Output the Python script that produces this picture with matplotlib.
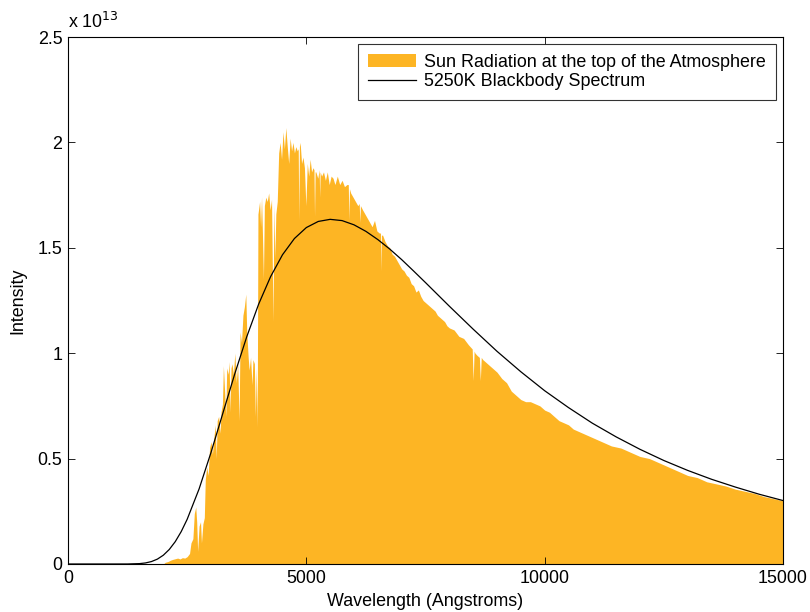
import matplotlib
matplotlib.use("Agg")
import matplotlib.pyplot as plt

plt.rcParams['font.family'] = ['Liberation Sans', 'DejaVu Sans']

# Wavelength (Angstrom) and intensity (units of 1e13) of the solar spectrum
sun_wl = [2000, 2040, 2100, 2150, 2200, 2250, 2300, 2350, 2400, 2450, 2500, 2550,
          2580, 2620, 2650, 2680, 2700, 2720, 2750, 2780, 2800, 2830, 2860, 2880,
          2910, 2940, 2970, 3000, 3030, 3060, 3090, 3110, 3130, 3160, 3190, 3210,
          3240, 3260, 3290, 3310, 3330, 3360, 3380, 3400, 3420, 3440, 3470, 3500,
          3530, 3560, 3590, 3610, 3640, 3670, 3700, 3730, 3750, 3780, 3800, 3830,
          3860, 3880, 3910, 3930, 3950, 3970, 3985, 4020, 4040, 4060, 4080, 4100,
          4120, 4150, 4180, 4210, 4240, 4270, 4300, 4320, 4340, 4360, 4390, 4420,
          4450, 4480, 4510, 4540, 4570, 4600, 4630, 4660, 4690, 4720, 4750, 4780,
          4810, 4830, 4842, 4855, 4870, 4900, 4930, 4960, 4990, 5020, 5050, 5080,
          5110, 5140, 5160, 5172, 5185, 5200, 5240, 5270, 5280, 5290, 5320, 5360,
          5400, 5440, 5480, 5520, 5560, 5600, 5650, 5700, 5750, 5800, 5850, 5880,
          5893, 5905, 5930, 5980, 6030, 6080, 6110, 6122, 6135, 6180, 6230, 6280,
          6330, 6380, 6430, 6480, 6530, 6555, 6565, 6575, 6600, 6650, 6700, 6750,
          6800, 6850, 6900, 6950, 7000, 7050, 7100, 7150, 7200, 7250, 7300, 7350,
          7400, 7450, 7500, 7550, 7600, 7650, 7700, 7750, 7800, 7850, 7900, 7950,
          8000, 8100, 8200, 8300, 8400, 8480, 8500, 8520, 8540, 8580, 8630, 8650,
          8670, 8700, 8800, 8900, 9000, 9100, 9200, 9300, 9400, 9500, 9600, 9700,
          9800, 9900, 10000, 10100, 10200, 10300, 10400, 10500, 10600, 10800,
          11000, 11200, 11400, 11600, 11800, 12000, 12200, 12400, 12600, 12800,
          13000, 13200, 13400, 13600, 13800, 14000, 14200, 14400, 14600, 14800,
          15000]
sun_flux = [0.0, 0.008, 0.012, 0.018, 0.022, 0.025, 0.028, 0.024, 0.030, 0.028, 0.035, 0.05,
            0.10, 0.12, 0.24, 0.27, 0.20, 0.06, 0.18, 0.20, 0.10, 0.19, 0.22, 0.40,
            0.46, 0.42, 0.55, 0.58, 0.52, 0.60, 0.66, 0.50, 0.68, 0.70, 0.62, 0.72,
            0.76, 0.94, 0.80, 0.70, 0.93, 0.90, 0.96, 0.72, 0.93, 0.95, 0.90, 1.00,
            0.86, 0.95, 0.68, 1.10, 1.05, 1.18, 1.22, 1.28, 1.10, 0.98, 0.92, 0.98,
            0.85, 0.97, 0.95, 0.70, 0.93, 0.65, 1.66, 1.72, 1.60, 1.74, 1.56, 1.35,
            1.70, 1.74, 1.72, 1.76, 1.68, 1.73, 1.15, 1.70, 1.45, 1.66, 1.72, 1.95,
            2.00, 1.92, 2.05, 1.97, 2.07, 1.98, 1.90, 2.02, 1.96, 2.00, 1.95, 1.98,
            1.96, 1.97, 1.63, 1.98, 2.00, 1.90, 1.93, 1.88, 1.70, 1.90, 1.84, 1.92,
            1.86, 1.88, 1.87, 1.65, 1.86, 1.86, 1.83, 1.87, 1.74, 1.86, 1.84, 1.86,
            1.82, 1.86, 1.80, 1.84, 1.83, 1.80, 1.84, 1.80, 1.82, 1.79, 1.80, 1.80,
            1.63, 1.78, 1.76, 1.74, 1.72, 1.70, 1.71, 1.62, 1.70, 1.68, 1.66, 1.64,
            1.62, 1.60, 1.63, 1.58, 1.57, 1.57, 1.39, 1.56, 1.56, 1.53, 1.51, 1.50,
            1.47, 1.46, 1.44, 1.42, 1.40, 1.39, 1.37, 1.36, 1.33, 1.32, 1.29, 1.30,
            1.27, 1.25, 1.24, 1.23, 1.22, 1.21, 1.20, 1.18, 1.17, 1.16, 1.15, 1.13,
            1.12, 1.11, 1.08, 1.07, 1.04, 1.02, 0.87, 1.01, 1.00, 0.99, 0.98, 0.87,
            0.98, 0.97, 0.95, 0.93, 0.91, 0.88, 0.86, 0.82, 0.80, 0.78, 0.77, 0.77,
            0.76, 0.75, 0.73, 0.72, 0.70, 0.68, 0.67, 0.66, 0.64, 0.62,
            0.60, 0.58, 0.56, 0.55, 0.53, 0.51, 0.50, 0.48, 0.46, 0.44,
            0.42, 0.41, 0.39, 0.38, 0.37, 0.355, 0.345, 0.335, 0.32, 0.31,
            0.30]

# 5250 K blackbody curve (units of 1e13)
bb_wl = [0, 500, 1000, 1250, 1500, 1625, 1750, 1875, 2000, 2125, 2250, 2375, 2500,
         2750, 3000, 3250, 3500, 3750, 4000, 4250, 4500, 4750, 5000, 5250, 5500,
         5750, 6000, 6250, 6500, 6750, 7000, 7250, 7500, 7750, 8000, 8500, 9000,
         9500, 10000, 10500, 11000, 11500, 12000, 12500, 13000, 13500, 14000,
         14500, 15000]
bb_flux = [0.0, 0.0, 0.0, 0.0001, 0.0018, 0.0050, 0.0115, 0.0231, 0.0417, 0.0690,
           0.106, 0.1537, 0.212, 0.356, 0.529, 0.716, 0.903, 1.078, 1.233, 1.363,
           1.467, 1.544, 1.596, 1.625, 1.635, 1.629, 1.609, 1.578, 1.539, 1.494,
           1.444, 1.390, 1.335, 1.279, 1.223, 1.114, 1.009, 0.912, 0.822, 0.742,
           0.668, 0.603, 0.544, 0.491, 0.444, 0.402, 0.365, 0.331, 0.301]

x_ticks = [0, 5000, 10000, 15000]
y_ticks = [0, 0.5, 1, 1.5, 2, 2.5]
y_tick_labels = ['0', '0.5', '1', '1.5', '2', '2.5']

FS = 12.9
fig = plt.figure(figsize=(8.10, 6.12), dpi=100)
ax = fig.add_axes([68/810, 48/612, 715/810, 527/612])

sun = ax.fill_between(sun_wl, sun_flux, 0, color='#FDB524', linewidth=0,
                      label='Sun Radiation at the top of the Atmosphere')
bb, = ax.plot(bb_wl, bb_flux, color='black', linewidth=0.9,
              label='5250K Blackbody Spectrum')

ax.set_xlim(0, 15000)
ax.set_ylim(0, 2.5)
ax.set_xticks(x_ticks)
ax.set_xticklabels([str(t) for t in x_ticks], fontsize=FS)
ax.set_yticks(y_ticks)
ax.set_yticklabels(y_tick_labels, fontsize=FS)
ax.tick_params(direction='in', length=5, width=0.6, top=True, right=True, pad=4)
for s in ax.spines.values():
    s.set_linewidth(0.8)

ax.set_xlabel('Wavelength (Angstroms)', fontsize=FS, labelpad=5)
ax.set_ylabel('Intensity', fontsize=FS, labelpad=8)

fig.text(68/810, 1 - 28/612, r'x 10$^{13}$', fontsize=FS, ha='left', va='baseline')

leg = ax.legend(handles=[sun, bb], loc='upper right', fontsize=FS, frameon=True,
                fancybox=False, borderaxespad=0.4, handlelength=2.7,
                handletextpad=0.45, borderpad=0.55, labelspacing=0.12)
leg.get_frame().set_edgecolor('black')
leg.get_frame().set_linewidth(0.8)

fig.savefig('out.png', dpi=100)
